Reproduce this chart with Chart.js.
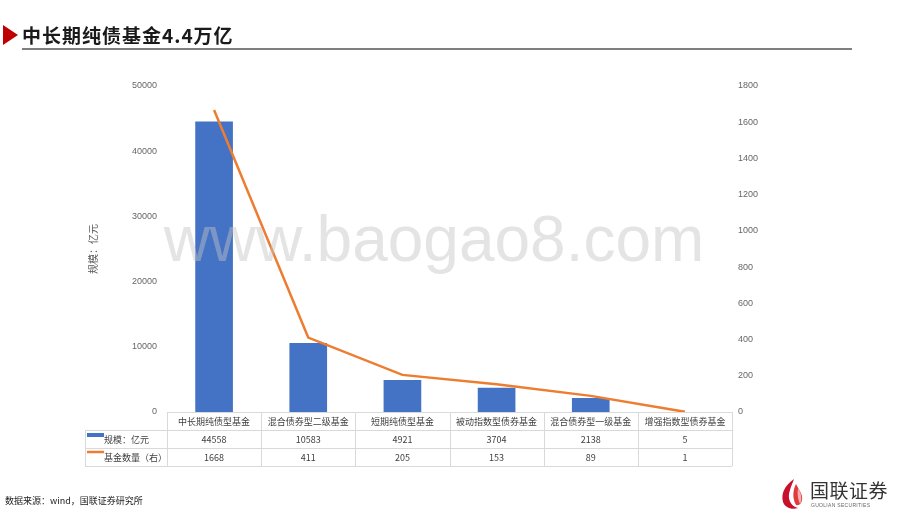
<!DOCTYPE html>
<html>
<head>
<meta charset="utf-8">
<script src="https://cdn.jsdelivr.net/npm/chart.js@4/dist/chart.umd.min.js"></script>
<style>
  html,body{margin:0;padding:0;background:#fff;}
  #wrap{position:relative;width:920px;height:518px;overflow:hidden;font-family:"Noto Sans CJK SC","Noto Sans",sans-serif;}
  #c{position:absolute;left:0;top:0;}
  .tri{position:absolute;left:3px;top:25px;width:0;height:0;border-top:10px solid transparent;border-bottom:10px solid transparent;border-left:15px solid #C00000;}
  .title{position:absolute;left:22px;top:22px;font-size:19px;font-weight:bold;color:#1a1a1a;line-height:26px;letter-spacing:1px;}
  .rule{position:absolute;left:22px;top:48px;width:830px;height:2px;background:#7f7f7f;}
  .src{position:absolute;left:5px;top:494px;font-size:9px;color:#222;}
  .logo-t{position:absolute;left:810px;top:478px;font-size:19px;color:#333;line-height:24px;letter-spacing:0.5px;}
  .logo-s{position:absolute;left:811px;top:502px;font-size:5px;color:#666;letter-spacing:0.3px;font-family:"Liberation Sans",sans-serif;}
  .wm{position:absolute;left:434px;top:202px;transform:translateX(-50%);white-space:nowrap;font-size:64px;color:rgba(195,195,195,0.45);font-family:"Liberation Sans",sans-serif;}
</style>
</head>
<body>
<div id="wrap">
  <canvas id="c" width="920" height="518"></canvas>
  <div class="tri"></div>
  <div class="title">中长期纯债基金4.4万亿</div>
  <div class="rule"></div>
  <div class="wm">www.baogao8.com</div>
  <div class="src">数据来源：wind，国联证券研究所</div>
  <svg style="position:absolute;left:780px;top:478px" width="26" height="32" viewBox="0 0 26 32">
    <path d="M14 1 C4 8 1 16 3 24 C5 30 12 32 18 30 C10 28 7 20 10 12 C11 8 13 4 14 1 Z" fill="#C8102E"/>
    <path d="M16 6 C13 12 12 20 16 27 C20 28 23 24 22 18 C21 14 18 10 16 6 Z" fill="#E03A3E"/>
    <path d="M18 10 C17 16 18 22 20 26 C22 22 22 16 18 10 Z" fill="#fff" opacity="0.6"/>
  </svg>
  <div class="logo-t">国联证券</div>
  <div class="logo-s">GUOLIAN SECURITIES</div>
</div>
<script>
const categories = ["中长期纯债型基金","混合债券型二级基金","短期纯债型基金","被动指数型债券基金","混合债券型一级基金","增强指数型债券基金"];
const scaleValues = [44558,10583,4921,3704,2138,5];
const fundCounts = [1668,411,205,153,89,1];
const seriesNames = ["规模：亿元","基金数量（右）"];
const leftAxis = {min:0,max:50000,step:10000};
const rightAxis = {min:0,max:1800,step:200};
const yAxisTitle = "规模：亿元";

const BLUE = "#4472C4", ORANGE = "#ED7D31";
const CJK = '"Noto Sans CJK SC", sans-serif';

const tablePlugin = {
  id:'tablePlugin',
  afterDraw(chart){
    const ctx = chart.ctx, x = chart.scales.x, area = chart.chartArea;
    const n = categories.length;
    const colW = (x.right - x.left)/n;
    const top = area.bottom, rowH = 18;
    const labelLeft = 85;
    ctx.save();
    ctx.strokeStyle = "#d9d9d9"; ctx.lineWidth = 1;
    ctx.beginPath();
    ctx.moveTo(x.left, top+0.5); ctx.lineTo(x.right, top+0.5);
    for (let r=1;r<=3;r++){ const y=Math.round(top+r*rowH)+0.5; ctx.moveTo(labelLeft,y); ctx.lineTo(x.right,y); }
    for (let i=0;i<=n;i++){ const xx=Math.round(x.left+i*colW)+0.5; ctx.moveTo(xx,top); ctx.lineTo(xx,top+3*rowH); }
    ctx.moveTo(labelLeft+0.5, top+rowH); ctx.lineTo(labelLeft+0.5, top+3*rowH);
    ctx.stroke();
    ctx.fillStyle = "#404040"; ctx.font = "9px "+CJK; ctx.textAlign="center"; ctx.textBaseline="middle";
    for (let i=0;i<n;i++){
      const cx = x.getPixelForValue(i);
      ctx.fillText(categories[i], cx, top+rowH*0.5+1);
      ctx.fillText(String(scaleValues[i]), cx, top+rowH*1.5+1);
      ctx.fillText(String(fundCounts[i]), cx, top+rowH*2.5+1);
    }
    ctx.fillStyle = BLUE; ctx.fillRect(87, top+rowH+3, 17, 4);
    ctx.strokeStyle = ORANGE; ctx.lineWidth = 2.5; ctx.beginPath();
    ctx.moveTo(87, top+2*rowH+4); ctx.lineTo(104, top+2*rowH+4); ctx.stroke();
    ctx.fillStyle = "#404040"; ctx.textAlign="left";
    ctx.fillText(seriesNames[0], 104, top+rowH*1.5+1);
    ctx.fillText(seriesNames[1], 104, top+rowH*2.5+1);
    ctx.save();
    ctx.translate(93, (area.top+area.bottom)/2);
    ctx.rotate(-Math.PI/2);
    ctx.textAlign="center"; ctx.fillStyle="#595959"; ctx.font = "10px "+CJK;
    ctx.fillText(yAxisTitle, 0, 0);
    ctx.restore();
    ctx.restore();
  }
};

const plain = v => String(v);

new Chart(document.getElementById('c'), {
  data:{
    labels: categories,
    datasets:[
      {type:'line', label:seriesNames[1], data:fundCounts, yAxisID:'y1', borderColor:ORANGE, backgroundColor:ORANGE, borderWidth:2.5, pointRadius:0, tension:0, order:0},
      {type:'bar', label:seriesNames[0], data:scaleValues, yAxisID:'y', backgroundColor:BLUE, barPercentage:0.4, categoryPercentage:1, order:1}
    ]
  },
  options:{
    responsive:false, animation:false, devicePixelRatio:1,
    layout:{padding:{top:86,bottom:106,left:0,right:0}},
    plugins:{legend:{display:false},tooltip:{enabled:false}},
    scales:{
      x:{display:false},
      y:{position:'left',min:leftAxis.min,max:leftAxis.max,
         ticks:{stepSize:leftAxis.step,color:"#666666",font:{family:"Liberation Sans",size:9},padding:10,callback:plain},
         grid:{display:false,drawTicks:false},border:{display:false},
         afterFit(s){s.width=167;}},
      y1:{position:'right',min:rightAxis.min,max:rightAxis.max,
         ticks:{stepSize:rightAxis.step,color:"#666666",font:{family:"Liberation Sans",size:9},padding:6,callback:plain},
         grid:{display:false,drawTicks:false},border:{display:false},
         afterFit(s){s.width=188;}}
    }
  },
  plugins:[tablePlugin]
});
</script>
</body>
</html>
